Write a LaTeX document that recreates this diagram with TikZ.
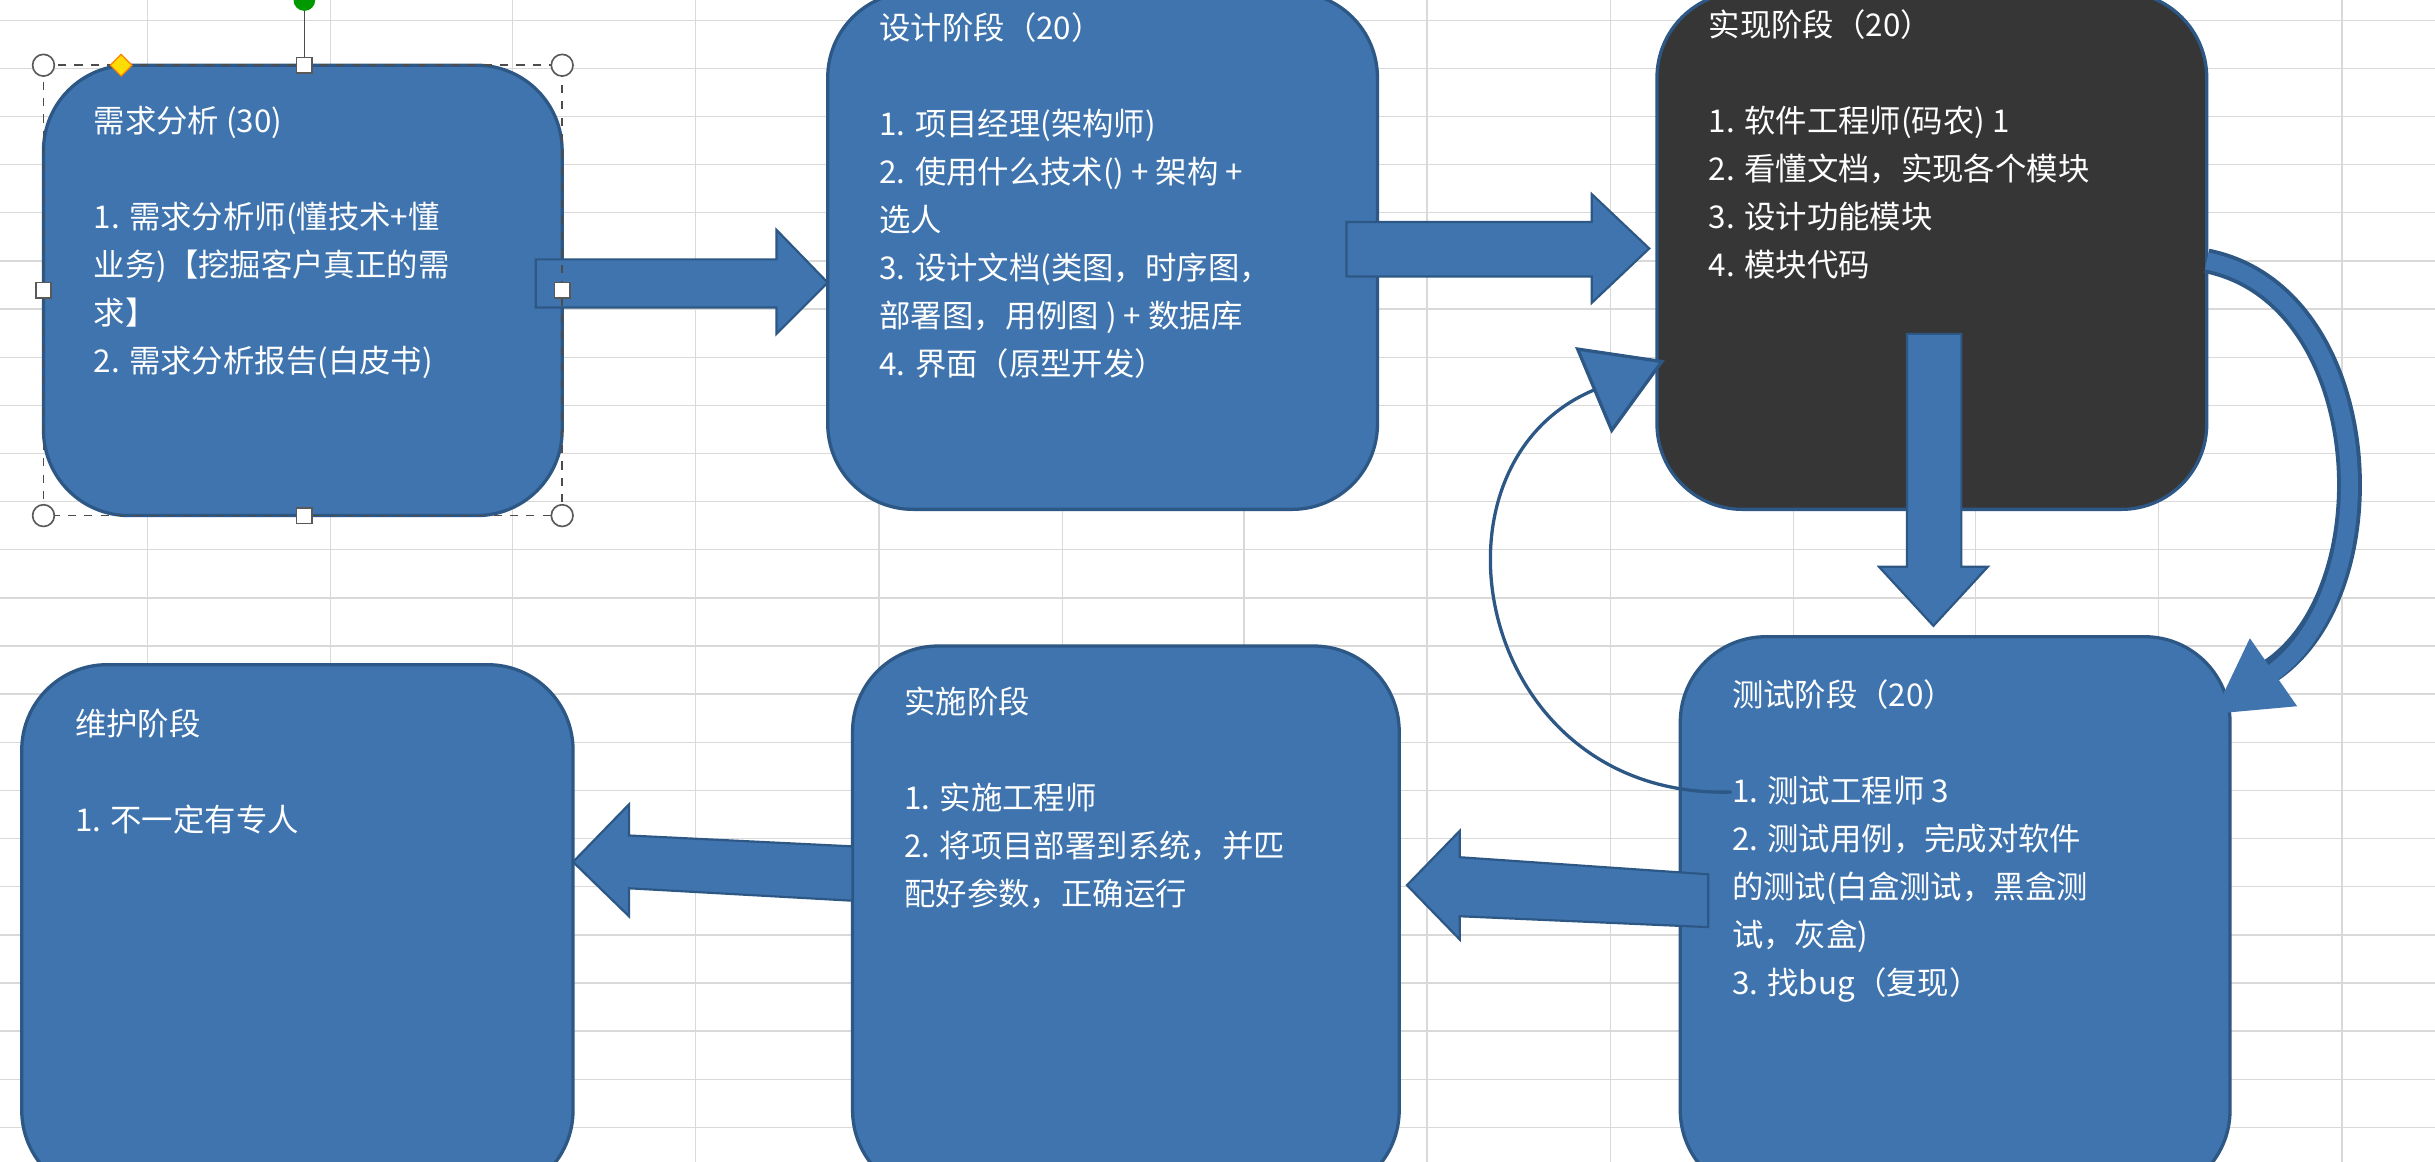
\documentclass[tikz,border=0pt]{standalone}
\usepackage{fontspec}
\setmainfont{Noto Sans CJK SC}
\usetikzlibrary{arrows.meta}
\definecolor{bfill}{HTML}{3F74AE}
\definecolor{bline}{HTML}{2D5784}
\definecolor{dfill}{HTML}{363636}
\definecolor{gridc}{HTML}{D9D9D9}
\tikzset{
 stage/.style={draw=bline,line width=1.2pt,fill=bfill,rounded corners=1.1cm},
 txt/.style={anchor=north west,align=left,text=white,inner sep=0pt,font=\fontsize{11.5}{17.6}\selectfont},
 barrow/.style={draw=bline,line width=0.8pt,fill=bfill},
 handle/.style={draw=gray!70!black,fill=white,line width=0.6pt}
}
\begin{document}
\begin{tikzpicture}[x=0.02cm,y=-0.02cm]
\useasboundingbox (0,0) rectangle (1568,748);
\fill[white] (0,0) rectangle (1568,748);
\foreach \x in {95,213,330,448,566,684,801,919,1037,1155,1272,1390,1508}
  \draw[gridc,line width=0.5pt] (\x,0) -- (\x,748);
\foreach \y in {13,44,75,106,137,168,199,230,261,292,323,354,385,416,447,478,509,540,571,602,633,664,695,726}
  \draw[gridc,line width=0.5pt] (0,\y) -- (1568,\y);
% boxes
\draw[stage] (28,42) rectangle (362,332);
\draw[stage] (533,-5) rectangle (887,328);
\draw[stage,fill=dfill] (1067,-5) rectangle (1421,328);
\draw[stage] (1082,410) rectangle (1436,770);
\draw[stage] (549,416) rectangle (901,770);
\draw[stage] (14,428) rectangle (369,770);
% texts
\node[txt] (t1) at (60,68) {需求分析 (30)\\[17.6pt]1. 需求分析师(懂技术+懂\\业务)【挖掘客户真正的需\\求】\\2.  需求分析报告(白皮书)};
\node[txt] (t2) at (566,8) {设计阶段（20）\\[17.6pt]1. 项目经理(架构师)\\2. 使用什么技术() + 架构 +\\选人\\3. 设计文档(类图，时序图，\\部署图，用例图 ) + 数据库\\4. 界面（原型开发）};
\node[txt] (t3) at (1100,6) {实现阶段（20）\\[17.6pt]1. 软件工程师(码农) 1\\2. 看懂文档，实现各个模块\\3. 设计功能模块\\4. 模块代码};
\node[txt] (t4) at (1115,437) {测试阶段（20）\\[17.6pt]1. 测试工程师  3\\2. 测试用例，完成对软件\\的测试(白盒测试，黑盒测\\试，灰盒)\\3. 找bug（复现）};
\node[txt] (t5) at (582,442) {实施阶段\\[17.6pt]1. 实施工程师\\2. 将项目部署到系统，并匹\\配好参数，正确运行};
\node[txt] (t6) at (48,456) {维护阶段\\[17.6pt]1. 不一定有专人};
% block arrows
\draw[barrow] (345,167) -- (500,167) -- (500,148) -- (533,182) -- (500,215) -- (500,198) -- (345,198) -- cycle;
\draw[barrow] (867,143) -- (1025,143) -- (1025,125) -- (1062,160) -- (1025,195) -- (1025,178) -- (867,178) -- cycle;
\draw[barrow] (1228,215) -- (1263,215) -- (1263,365) -- (1280,365) -- (1245,403) -- (1210,365) -- (1228,365) -- cycle;
\draw[barrow] (1100,563) -- (940,552) -- (940,535) -- (906,570) -- (940,605) -- (940,590) -- (1100,597) -- cycle;
\draw[barrow] (549,545) -- (405,538) -- (405,518) -- (369,555) -- (405,590) -- (405,572) -- (549,580) -- cycle;
% curved arrows
\coordinate (c1) at (1421,168);
\coordinate (c2) at (1425,460);
\draw[bline,line width=0.32cm] (c1) .. controls (1530,190) and (1540,380) .. (1462,432);
\draw[bfill,line width=0.22cm,-{Triangle[length=0.95cm,width=1.0cm,fill=bfill]}] (c1) .. controls (1530,190) and (1540,380) .. (c2);
\coordinate (c3) at (1115,510);
\coordinate (c4) at (1072,232);
\draw[bline,line width=1.2pt,-{Triangle[length=1.0cm,width=1.2cm,fill=bfill]}] (c3) .. controls (950,515) and (910,300) .. (c4);
% selection handles
\draw[gray!60!black,dashed,line width=0.6pt] (28,42) rectangle (362,332);
\draw[gray!60!black,line width=0.6pt] (196,0) -- (196,42);
\fill[green!60!black] (196,0) circle (7);
\foreach \p in {(28,42),(362,42),(28,332),(362,332)} \draw[handle] \p circle (7);
\foreach \p in {(196,42),(196,332),(28,187),(362,187)} \draw[handle] \p ++(-5,-5) rectangle ++(10,10);
\draw[fill=yellow!80!orange,draw=orange] (78,35) -- (85,42) -- (78,49) -- (71,42) -- cycle;
\end{tikzpicture}
\end{document}
